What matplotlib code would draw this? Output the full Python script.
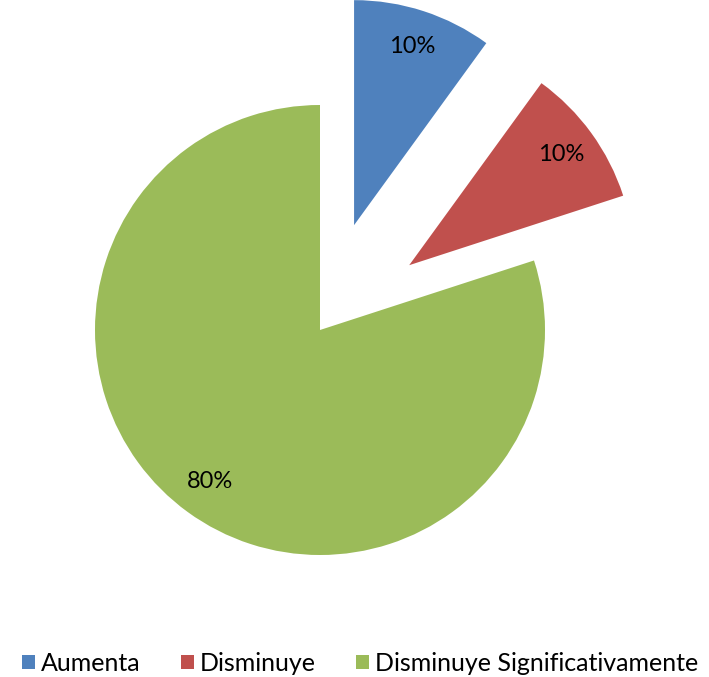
import matplotlib.pyplot as plt
from matplotlib.patches import Patch

plt.rcParams['font.family'] = ['Lato', 'DejaVu Sans']

labels = ['Aumenta', 'Disminuye', 'Disminuye Significativamente']
values = [10, 10, 80]
colors = ['#4F81BD', '#C0504D', '#9BBB59']
explode = [0.49, 0.49, 0]

fig = plt.figure(figsize=(7.09, 6.77), dpi=100)
ax = fig.add_axes([0, 0, 1, 1])

# pie center sits at (320, 330) px with a 225 px radius
r = 225.0
ax.pie(values, colors=colors, explode=explode, startangle=90,
       counterclock=False, autopct='%1.0f%%', pctdistance=0.835,
       radius=1, textprops={'fontsize': 17, 'color': 'black'},
       wedgeprops={'linewidth': 0})
ax.set_xlim(-320 / r, (709 - 320) / r)
ax.set_ylim(-(677 - 330) / r, 330 / r)
ax.set_aspect('auto')
ax.axis('off')

handles = [Patch(facecolor=c, edgecolor='none') for c in colors]
fig.legend(handles, labels, loc='lower center', ncol=3, frameon=False,
           bbox_to_anchor=(0.508, -0.03), fontsize=18,
           handlelength=0.52, handleheight=0.52, handletextpad=0.25,
           columnspacing=1.6)

fig.savefig('out.png', dpi=100)
